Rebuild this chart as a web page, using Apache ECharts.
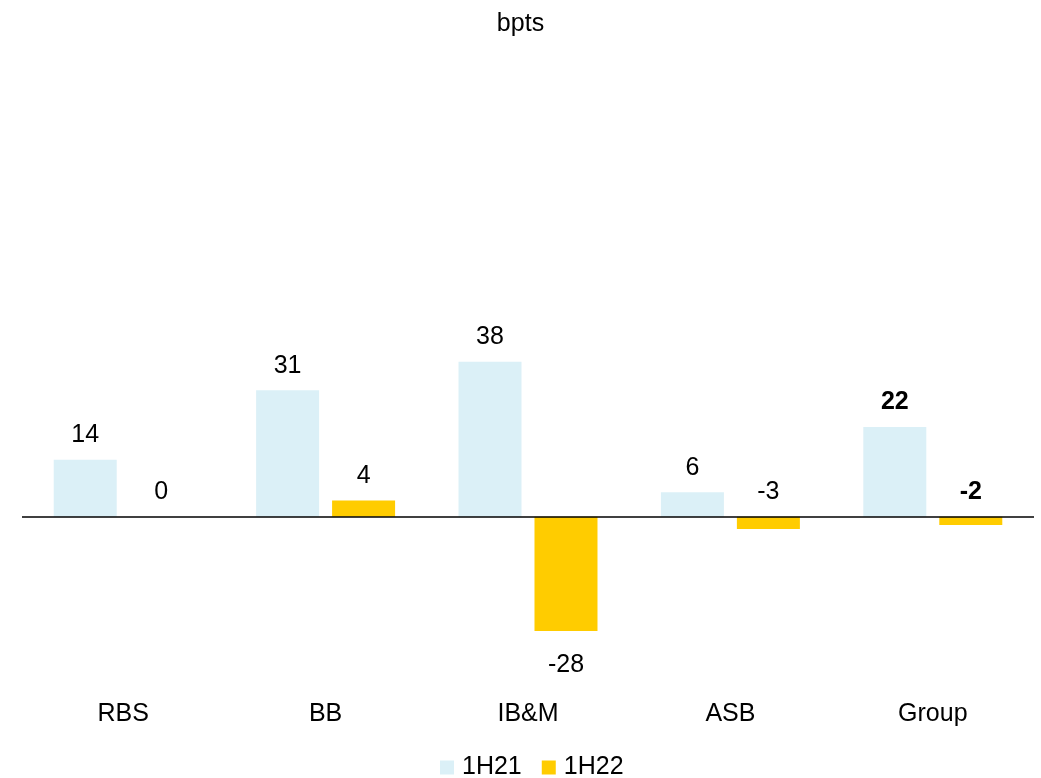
<!DOCTYPE html>
<html>
<head>
<meta charset="utf-8">
<script src="https://cdn.jsdelivr.net/npm/echarts@6/dist/echarts.min.js"></script>
<style>html,body{margin:0;padding:0;background:#fff}#c{width:1041px;height:778px}</style>
</head>
<body>
<div id="c"></div>
<script>
var categories = ['RBS', 'BB', 'IB&M', 'ASB', 'Group'];
var series1H21 = [14, 31, 38, 6, 22];
var series1H22 = [0, 4, -28, -3, -2];
var seriesNames = ['1H21', '1H22'];
var titleText = 'bpts';

var FONT = 'Arial, "Liberation Sans", sans-serif';
var FS = 25;

function buildData(values) {
  return values.map(function (v, i) {
    var isGroup = categories[i] === 'Group';
    var big = v <= -10;
    return {
      value: v,
      label: {
        position: big ? 'bottom' : 'top',
        distance: big ? 22 : 12,
        fontWeight: isGroup ? 'bold' : 'normal'
      }
    };
  });
}

var chart = echarts.init(document.getElementById('c'), null, {renderer: 'canvas'});
chart.setOption({
  animation: false,
  backgroundColor: '#ffffff',
  textStyle: {fontFamily: FONT},
  title: {
    text: titleText,
    left: 'center',
    top: 7,
    textStyle: {fontSize: FS, fontWeight: 'normal', color: '#000', fontFamily: FONT}
  },
  legend: {
    data: seriesNames,
    top: 750,
    left: 435,
    icon: 'rect',
    itemWidth: 14,
    itemHeight: 14,
    itemGap: 20,
    textStyle: {fontSize: FS, color: '#000', fontFamily: FONT, padding: [0, 0, 0, 3]}
  },
  grid: {left: 22, right: 7, top: 272, bottom: 98},
  xAxis: {
    type: 'category',
    data: categories,
    axisLine: {show: false, onZero: false},
    axisTick: {show: false},
    axisLabel: {fontSize: FS, color: '#000', margin: 22, fontFamily: FONT},
    splitLine: {show: false}
  },
  yAxis: {
    type: 'value',
    min: -40,
    max: 60,
    show: false,
    splitLine: {show: false}
  },
  series: [
    {
      name: seriesNames[0],
      type: 'bar',
      barWidth: 63,
      barGap: '20.6%',
      itemStyle: {color: '#DBF0F7'},
      label: {show: true, fontSize: FS, color: '#000', fontFamily: FONT},
      data: buildData(series1H21),
      markLine: {
        silent: true,
        symbol: 'none',
        label: {show: false},
        lineStyle: {color: '#000', width: 1.5, type: 'solid'},
        data: [{yAxis: 0}],
        z: 10
      }
    },
    {
      name: seriesNames[1],
      type: 'bar',
      barWidth: 63,
      barGap: '20.6%',
      itemStyle: {color: '#FFCC00'},
      label: {show: true, fontSize: FS, color: '#000', fontFamily: FONT},
      data: buildData(series1H22)
    }
  ]
});
</script>
</body>
</html>
